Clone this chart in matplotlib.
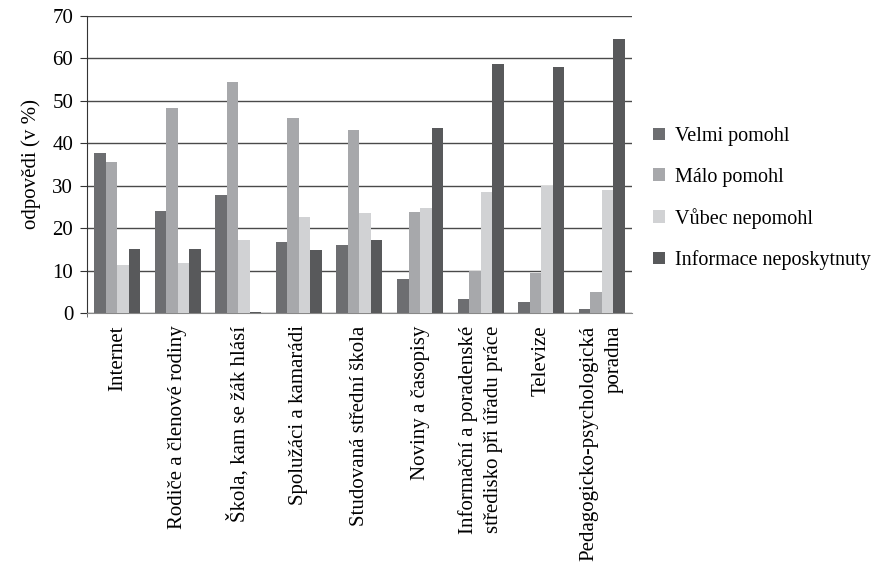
import matplotlib.pyplot as plt
import numpy as np

categories = ["Internet", "Rodiče a členové rodiny", "Škola, kam se žák hlásí",
              "Spolužáci a kamarádi", "Studovaná střední škola", "Noviny a časopisy",
              "Informační a poradenské\nstředisko při úřadu práce", "Televize",
              "Pedagogicko-psychologická\nporadna"]
series_names = ["Velmi pomohl", "Málo pomohl", "Vůbec nepomohl", "Informace neposkytnuty"]
velmi = [37.8, 24.0, 27.7, 16.8, 16.1, 7.9, 3.4, 2.5, 1.0]
malo = [35.5, 48.3, 54.5, 46.0, 43.0, 23.8, 10.0, 9.3, 5.0]
vubec = [11.2, 11.8, 17.2, 22.6, 23.6, 24.7, 28.5, 30.0, 29.0]
info = [15.1, 15.1, 0.3, 14.9, 17.3, 43.5, 58.7, 58.0, 64.6]
colors = ["#6d6e71", "#a7a8ab", "#d1d2d4", "#58595b"]

plt.rcParams['font.family'] = ['Liberation Serif', 'DejaVu Serif']

fig = plt.figure(figsize=(8.8, 5.69), dpi=100)
ax = fig.add_axes([0.099, 0.45, 0.619, 0.522])

x = np.arange(len(categories))
w = 0.19
for i, (vals, name) in enumerate(zip([velmi, malo, vubec, info], series_names)):
    ax.bar(x + (i - 1.5) * w, vals, w, color=colors[i], label=name, zorder=3)

ax.set_xlim(-0.5, len(categories) - 0.5)
ax.set_ylim(0, 70)
ax.set_yticks(range(0, 71, 10))
ax.yaxis.grid(True, color="#4a4a4a", linewidth=1, zorder=0)
for s in ["top", "right"]:
    ax.spines[s].set_visible(False)
ax.spines["left"].set_color("#333333")
ax.spines["bottom"].set_color("#888888")
ax.tick_params(axis="y", length=5, color="#333333", labelsize=15, pad=5)
ax.set_xticks(x)
ax.set_xticklabels(categories, rotation=90, fontsize=15, ha="center", va="top",
                   linespacing=1.45, multialignment="right")
ax.tick_params(axis="x", length=0, pad=9)
ax.set_xticks([-0.5], minor=True)
ax.tick_params(axis="x", which="minor", length=3, color="#555555")
ax.set_ylabel("odpovědi (v %)", fontsize=15, labelpad=8)

fig.legend(loc="center left", bbox_to_anchor=(0.722, 0.651), frameon=False,
           fontsize=14.5, handlelength=0.55, handleheight=0.55, handletextpad=0.5,
           labelspacing=1.05)

fig.savefig("out.png", dpi=100)
